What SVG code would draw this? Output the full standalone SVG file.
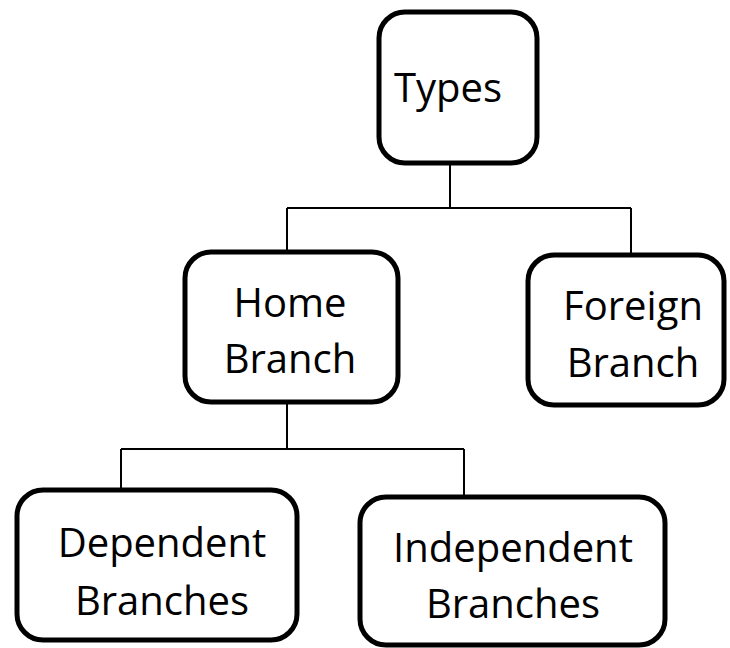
<svg xmlns="http://www.w3.org/2000/svg" width="730" height="648" viewBox="0 0 730 648">
<style>
.box{fill:#fff;stroke:#000;stroke-width:5}
.ln{fill:none;stroke:#000;stroke-width:2}
text{font-family:"Open Sans","Noto Sans",sans-serif;font-size:40px;fill:#000;text-anchor:middle}
</style>
<rect width="730" height="648" fill="#fff"/>
<g id="connectors">
<path class="ln" d="M450 163V208M287 208H631M287 208V252M631 208V255"/>
<path class="ln" d="M287 402V449M121 449H464M121 449V490M464 449V497"/>
</g>
<g id="types"><rect class="box" x="379" y="12" width="158" height="151" rx="26"/><text x="448" y="102">Types</text></g>
<g id="home"><rect class="box" x="185" y="252" width="213" height="150" rx="26"/><text x="290" y="317">Home</text><text x="290" y="373">Branch</text></g>
<g id="foreign"><rect class="box" x="528" y="255" width="196" height="150" rx="26"/><text x="633" y="320">Foreign</text><text x="633" y="377">Branch</text></g>
<g id="dependent"><rect class="box" x="17" y="490" width="280" height="150" rx="26"/><text x="162" y="557">Dependent</text><text x="162" y="615">Branches</text></g>
<g id="independent"><rect class="box" x="360" y="497" width="305" height="148" rx="26"/><text x="513" y="562">Independent</text><text x="513" y="618">Branches</text></g>
</svg>
